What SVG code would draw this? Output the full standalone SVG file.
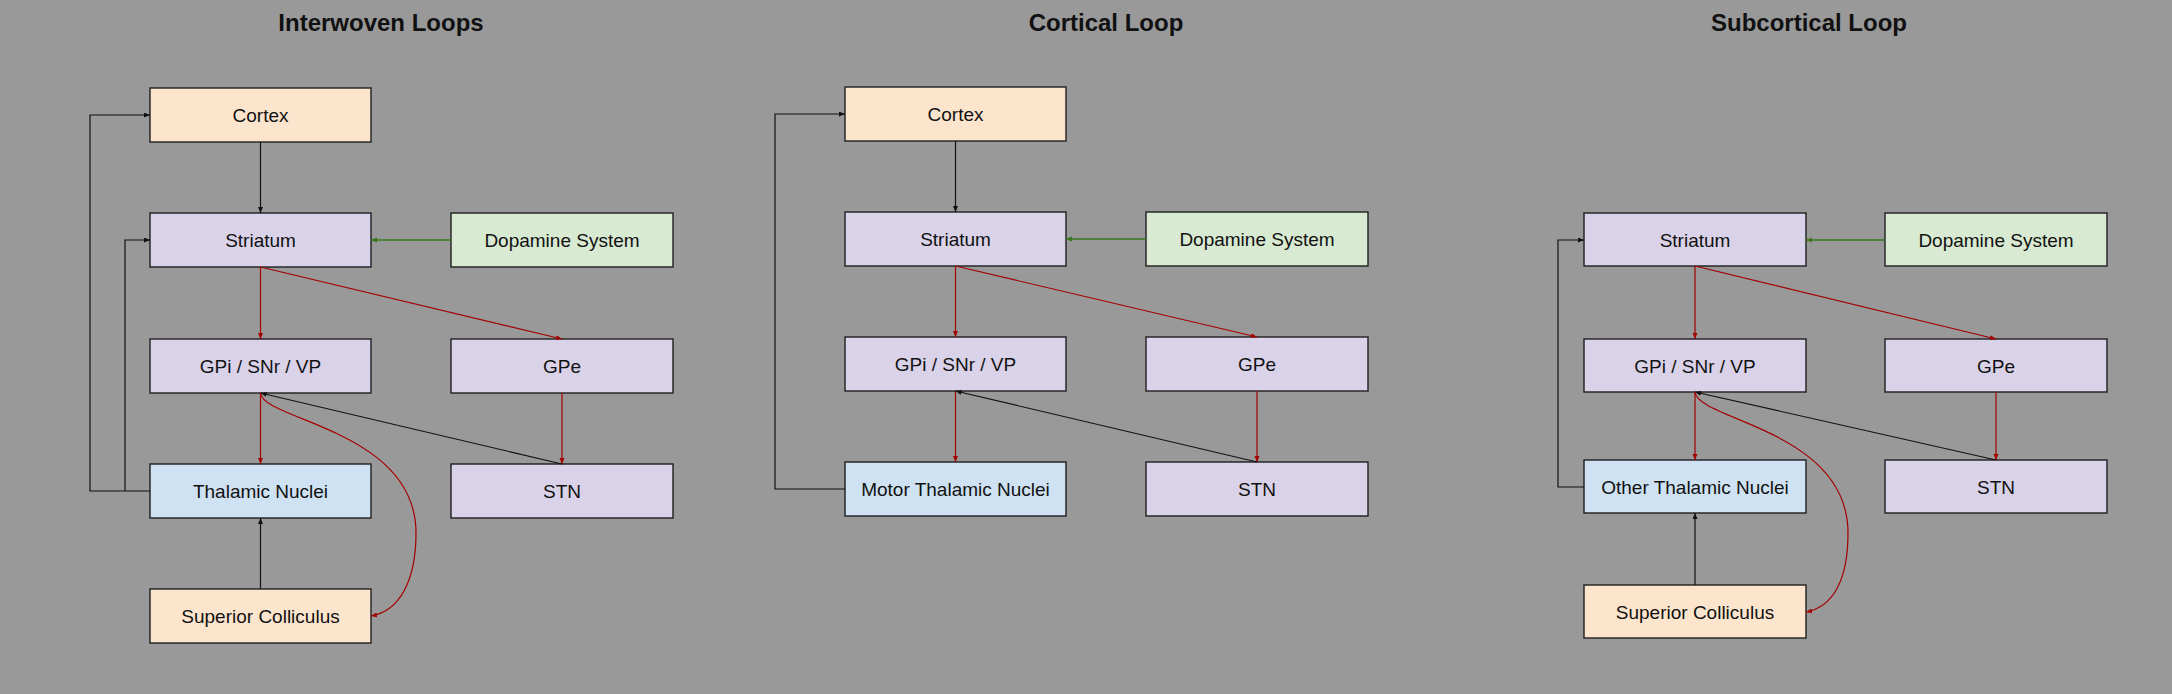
<svg xmlns="http://www.w3.org/2000/svg" width="2172" height="694" viewBox="0 0 2172 694">
<style>
.title{font-family:"Liberation Sans",Arial,sans-serif;font-size:24px;font-weight:bold;fill:#111;text-anchor:middle}
.lbl{font-family:"Liberation Sans",Arial,sans-serif;font-size:19px;fill:#111;text-anchor:middle}
.box{stroke:#1e1e1e;stroke-width:1.4}
.peach{fill:#fde5cd}
.lav{fill:#d9d2e9}
.green{fill:#d9ead3}
.blue{fill:#cfe2f3}
.k{fill:none;stroke:#111;stroke-width:1.2;marker-end:url(#ak)}
.r{fill:none;stroke:#a30000;stroke-width:1.2;marker-end:url(#ar)}
.g{fill:none;stroke:#38761d;stroke-width:1.3;marker-end:url(#ag)}
</style>
<defs>
<marker id="ak" markerUnits="userSpaceOnUse" markerWidth="7" markerHeight="6" refX="6" refY="2.5" orient="auto"><path d="M0,0 L6,2.5 L0,5 z" fill="#111"/></marker>
<marker id="ar" markerUnits="userSpaceOnUse" markerWidth="7" markerHeight="6" refX="6" refY="2.5" orient="auto"><path d="M0,0 L6,2.5 L0,5 z" fill="#a30000"/></marker>
<marker id="ag" markerUnits="userSpaceOnUse" markerWidth="7" markerHeight="6" refX="6" refY="2.5" orient="auto"><path d="M0,0 L6,2.5 L0,5 z" fill="#38761d"/></marker>
</defs>
<rect x="0" y="0" width="2172" height="694" fill="#999999"/>

<text class="title" x="381" y="31">Interwoven Loops</text>
<text class="title" x="1106" y="31">Cortical Loop</text>
<text class="title" x="1809" y="31">Subcortical Loop</text>

<!-- Panel 1 -->
<g id="p1-cortex"><rect class="box peach" x="150" y="88" width="221" height="54"/><text class="lbl" x="260.5" y="122">Cortex</text></g>
<g id="p1-striatum"><rect class="box lav" x="150" y="213" width="221" height="54"/><text class="lbl" x="260.5" y="247">Striatum</text></g>
<g id="p1-dopamine"><rect class="box green" x="451" y="213" width="222" height="54"/><text class="lbl" x="562" y="247">Dopamine System</text></g>
<g id="p1-gpi"><rect class="box lav" x="150" y="339" width="221" height="54"/><text class="lbl" x="260.5" y="373">GPi / SNr / VP</text></g>
<g id="p1-gpe"><rect class="box lav" x="451" y="339" width="222" height="54"/><text class="lbl" x="562" y="373">GPe</text></g>
<g id="p1-thal"><rect class="box blue" x="150" y="464" width="221" height="54"/><text class="lbl" x="260.5" y="498">Thalamic Nuclei</text></g>
<g id="p1-stn"><rect class="box lav" x="451" y="464" width="222" height="54"/><text class="lbl" x="562" y="498">STN</text></g>
<g id="p1-sc"><rect class="box peach" x="150" y="589" width="221" height="54"/><text class="lbl" x="260.5" y="623">Superior Colliculus</text></g>

<!-- Panel 2 -->
<g id="p2-cortex"><rect class="box peach" x="845" y="87" width="221" height="54"/><text class="lbl" x="955.5" y="121">Cortex</text></g>
<g id="p2-striatum"><rect class="box lav" x="845" y="212" width="221" height="54"/><text class="lbl" x="955.5" y="246">Striatum</text></g>
<g id="p2-dopamine"><rect class="box green" x="1146" y="212" width="222" height="54"/><text class="lbl" x="1257" y="246">Dopamine System</text></g>
<g id="p2-gpi"><rect class="box lav" x="845" y="337" width="221" height="54"/><text class="lbl" x="955.5" y="371">GPi / SNr / VP</text></g>
<g id="p2-gpe"><rect class="box lav" x="1146" y="337" width="222" height="54"/><text class="lbl" x="1257" y="371">GPe</text></g>
<g id="p2-thal"><rect class="box blue" x="845" y="462" width="221" height="54"/><text class="lbl" x="955.5" y="496">Motor Thalamic Nuclei</text></g>
<g id="p2-stn"><rect class="box lav" x="1146" y="462" width="222" height="54"/><text class="lbl" x="1257" y="496">STN</text></g>

<!-- Panel 3 -->
<g id="p3-striatum"><rect class="box lav" x="1584" y="213" width="222" height="53"/><text class="lbl" x="1695" y="246.5">Striatum</text></g>
<g id="p3-dopamine"><rect class="box green" x="1885" y="213" width="222" height="53"/><text class="lbl" x="1996" y="246.5">Dopamine System</text></g>
<g id="p3-gpi"><rect class="box lav" x="1584" y="339" width="222" height="53"/><text class="lbl" x="1695" y="372.5">GPi / SNr / VP</text></g>
<g id="p3-gpe"><rect class="box lav" x="1885" y="339" width="222" height="53"/><text class="lbl" x="1996" y="372.5">GPe</text></g>
<g id="p3-thal"><rect class="box blue" x="1584" y="460" width="222" height="53"/><text class="lbl" x="1695" y="493.5">Other Thalamic Nuclei</text></g>
<g id="p3-stn"><rect class="box lav" x="1885" y="460" width="222" height="53"/><text class="lbl" x="1996" y="493.5">STN</text></g>
<g id="p3-sc"><rect class="box peach" x="1584" y="585" width="222" height="53"/><text class="lbl" x="1695" y="618.5">Superior Colliculus</text></g>

<g id="connectors">
<!-- Panel 1 -->
<path class="k" d="M260.5,142 V213"/>
<path class="g" d="M451,240 H371"/>
<path class="r" d="M260.5,267 V339"/>
<path class="r" d="M260.5,267 L562,339"/>
<path class="r" d="M260.5,393 V464"/>
<path class="r" d="M562,393 V464"/>
<path class="k" d="M562,464 L260.5,393"/>
<path class="r" d="M260.5,393 C262,420 416,430 416,533 C416,580 400,611 371,616"/>
<path class="k" d="M260.5,589 V518"/>
<path class="k" d="M150,491 H90 V115 H150"/>
<path class="k" d="M125,491 V240 H150"/>
<!-- Panel 2 -->
<path class="k" d="M955.5,141 V212"/>
<path class="g" d="M1146,239 H1066"/>
<path class="r" d="M955.5,266 V337"/>
<path class="r" d="M955.5,266 L1257,337"/>
<path class="r" d="M955.5,391 V462"/>
<path class="r" d="M1257,391 V462"/>
<path class="k" d="M1257,462 L955.5,391"/>
<path class="k" d="M845,489 H775 V114 H845"/>
<!-- Panel 3 -->
<path class="g" d="M1885,240 H1806"/>
<path class="r" d="M1695,266 V339"/>
<path class="r" d="M1695,266 L1996,339"/>
<path class="r" d="M1695,392 V460"/>
<path class="r" d="M1996,392 V460"/>
<path class="k" d="M1996,460 L1695,392"/>
<path class="r" d="M1695,392 C1697,420 1848,430 1848,533 C1848,580 1833,607 1806,612"/>
<path class="k" d="M1695,585 V513"/>
<path class="k" d="M1584,487 H1558 V240 H1584"/>
</g>
</svg>
